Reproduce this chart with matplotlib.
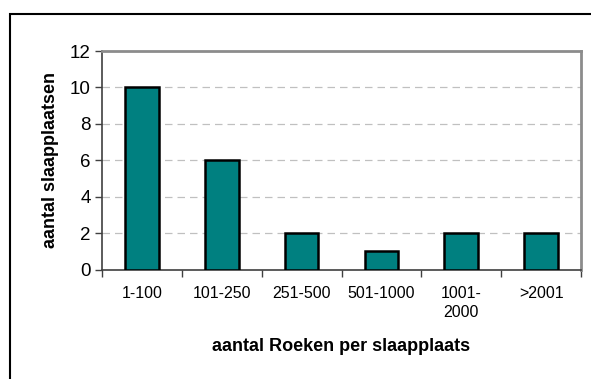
import matplotlib.pyplot as plt
import matplotlib.patches as patches
import numpy as np

# aantal slaapplaatsen per klasse van aantal Roeken
klassen = ["1-100", "101-250", "251-500", "501-1000", "1001-\n2000", ">2001"]
aantal = [10, 6, 2, 1, 2, 2]

plt.rcParams["font.family"] = ["Liberation Sans", "DejaVu Sans"]

fig = plt.figure(figsize=(5.91, 3.79), dpi=100)
ax = fig.add_axes([102 / 591, 1 - 269.7 / 379, 479 / 591, 218.7 / 379])

x = np.arange(len(klassen))
ax.bar(x, aantal, width=0.42, color="#008080", edgecolor="black", linewidth=1.8, zorder=3)

ax.set_xlim(-0.5, len(klassen) - 0.5)
ax.set_ylim(0, 12)
ax.set_yticks(range(0, 13, 2))
ax.tick_params(axis="y", labelsize=13.5, length=5, width=1, color="#404040", pad=3)

# labels in het midden, streepjes tussen de klassen
ax.set_xticks(x)
ax.set_xticklabels(klassen, fontsize=11.5, linespacing=1.3)
ax.tick_params(axis="x", which="major", length=0, pad=12)
ax.set_xticks(np.arange(-0.5, len(klassen)), minor=True)
ax.tick_params(axis="x", which="minor", length=5, width=1, color="#404040")

for y in range(2, 12, 2):
    ax.axhline(y, color="#c0c0c0", linestyle=(0, (6, 4)), linewidth=0.9, zorder=1)

for side in ["left", "bottom"]:
    ax.spines[side].set_color("#404040")
    ax.spines[side].set_linewidth(1.2)
for side in ["top", "right"]:
    ax.spines[side].set_color("#8c8c8c")
    ax.spines[side].set_linewidth(2)

ax.set_xlabel("aantal Roeken per slaapplaats", fontsize=13, fontweight="bold", labelpad=13)
ax.set_ylabel("aantal slaapplaatsen", fontsize=13, fontweight="bold", labelpad=8)

# kader rond de grafiek
kader = patches.Rectangle((10 / 591, -0.2), 1.2, 1.2 - 14 / 379, transform=fig.transFigure,
                          fill=False, edgecolor="black", linewidth=1.5, clip_on=False)
fig.patches.append(kader)

fig.savefig("out.png", dpi=100)
